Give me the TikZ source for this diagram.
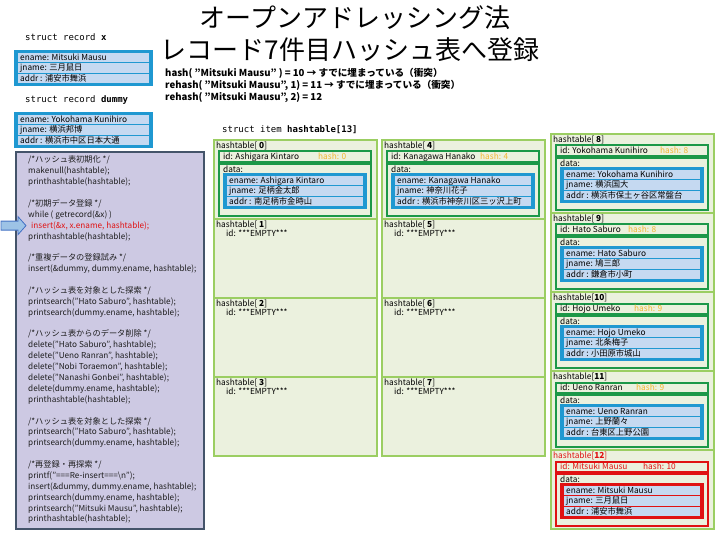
\documentclass[tikz,border=0pt]{standalone}
\usepackage{fontspec}
\setmainfont{Noto Sans CJK JP}
\newfontfamily\structfont{DejaVu Sans Mono}
\usetikzlibrary{positioning}
\definecolor{cBlue}{RGB}{31,152,209}
\definecolor{cRowFill}{RGB}{197,217,241}
\definecolor{cDarkGreen}{RGB}{28,152,72}
\definecolor{cLightGreen}{RGB}{155,206,98}
\definecolor{cCellFill}{RGB}{235,241,222}
\definecolor{cHash}{RGB}{242,182,48}
\definecolor{cRed}{RGB}{224,18,18}
\definecolor{cCodeFill}{RGB}{205,201,227}
\definecolor{cCodeBorder}{RGB}{68,84,106}
\definecolor{cCodeText}{RGB}{30,30,30}
\definecolor{cArrowFill}{RGB}{157,195,230}
\definecolor{cArrowLine}{RGB}{68,114,196}
\def\slotw{163}
\tikzset{
	cellbox/.style ={draw=cLightGreen, line width=2.6pt, fill=cCellFill},
	idbox/.style   ={draw=cDarkGreen, line width=2pt},
	databox/.style ={draw=cDarkGreen, line width=2pt},
	recbox/.style  ={draw=cBlue, line width=2.4pt, fill=cRowFill},
	recrow/.style  ={draw=cBlue, line width=1.3pt, fill=cRowFill},
	celltext/.style={anchor=base west, inner sep=0pt, yshift=-2.8pt, font=\fontsize{8.3}{9}\selectfont},
	celllabel/.style={celltext},
	idtext/.style  ={celltext},
	datatext/.style={celltext},
	hashtext/.style={celltext, text=cHash},
	rectext/.style ={celltext},
	codebox/.style ={draw=cCodeBorder, line width=1.8pt, fill=cCodeFill},
	codeline/.style={anchor=base west, inner sep=0pt, yshift=-2.9pt, text=cCodeText, font=\fontsize{8.2}{9}\selectfont},
	structlabel/.style={anchor=base west, inner sep=0pt, yshift=-3pt, font=\structfont\fontsize{9}{10}\selectfont},
	hashline/.style={anchor=base west, inner sep=0pt, yshift=-3.4pt, font=\bfseries\fontsize{9.6}{11}\selectfont},
	titletext/.style={anchor=base, inner sep=0pt, yshift=-9.5pt, font=\fontsize{26}{30}\selectfont},
	pointer/.style ={draw=cArrowLine, fill=cArrowFill, line width=0.8pt, line join=miter},
}
% three-row record: name, x, y, width, ename, jname, addr
\newcommand{\recordbox}[7]{%
	\draw[recbox] (#2,#3) rectangle ++(#4,34);
	\foreach \txt [count=\k from 0] in {{ename: #5},{jname: #6},{addr : #7}}{
		\draw[recrow] (#2+2,#3+1.5+10.33*\k) rectangle ++(#4-4,10.33);
		\node[rectext] (#1-\k) at (#2+5,#3+6.67+10.33*\k) {\txt};
	}%
}
% used slot: name, x, y, index, id, hash x, hash, jname, addr
\newcommand{\fullslot}[9]{%
	\draw[cellbox] (#2,#3) rectangle ++(\slotw,79);
	\node[celllabel] (#1-lbl) at (#2+2,#3+6) {hashtable[\textbf{#4}]};
	\draw[idbox] (#2+5,#3+11.5) rectangle (#2+\slotw-6,#3+22);
	\node[idtext] (#1-id) at (#2+9,#3+16.8) {id: #5};
	\node[hashtext] (#1-hash) at (#2+#6,#3+16.8) {hash: #7};
	\draw[databox] (#2+5,#3+24) rectangle (#2+\slotw-6,#3+76);
	\node[datatext] (#1-data) at (#2+9,#3+29.5) {data:};
	\recordbox{#1-rec}{#2+10}{#3+34}{\slotw-21}{#5}{#8}{#9}%
}
% empty slot: name, x, y, index
\newcommand{\emptyslot}[4]{%
	\draw[cellbox] (#2,#3) rectangle ++(\slotw,79);
	\node[celllabel] (#1-lbl) at (#2+2,#3+6) {hashtable[\textbf{#4}]};
	\node[idtext] (#1-id) at (#2+12,#3+15) {id: ***EMPTY***};
}

\begin{document}
\begin{tikzpicture}[x=1pt, y=-1pt]
	\fill[white] (0,0) rectangle (720,540);
	\useasboundingbox (0,0) rectangle (720,540);

	% title and hash values
	\node[titletext] (title1) at (355,18) {オープンアドレッシング法};
	\node[titletext] (title2) at (350,50) {レコード7件目ハッシュ表へ登録};
	\node[hashline] (hash0) at (165,73) {hash( "Mitsuki Mausu" ) = 10 → すでに埋まっている（衝突）};
	\node[hashline] (hash1) at (165,85) {rehash( "Mitsuki Mausu", 1) = 11 → すでに埋まっている（衝突）};
	\node[hashline] (hash2) at (165,97) {rehash( "Mitsuki Mausu", 2) = 12};

	% records x and dummy
	\node[structlabel] (recx) at (25,38) {struct record \textbf{x}};
	\recordbox{x}{15}{51}{137}{Mitsuki Mausu}{三月鼠日}{浦安市舞浜}
	\node[structlabel] (recdummy) at (25,100) {struct record \textbf{dummy}};
	\recordbox{dummy}{15}{113}{137}{Yokohama Kunihiro}{横浜邦博}{横浜市中区日本大通}

	% main program
	\draw[codebox] (16,152) rectangle (204,529);
	\foreach \txt [count=\i from 0] in {
		{/*ハッシュ表初期化 */},
		{makenull(hashtable);},
		{printhashtable(hashtable);},
		{},
		{/*初期データ登録 */},
		{while ( getrecord(\&x) )},
		{\textcolor{cRed}{\hspace{3pt}insert(\&x, x.ename, hashtable);}},
		{printhashtable(hashtable);},
		{},
		{/*重複データの登録試み */},
		{insert(\&dummy, dummy.ename, hashtable);},
		{},
		{/*ハッシュ表を対象とした探索 */},
		{printsearch("Hato Saburo", hashtable);},
		{printsearch(dummy.ename, hashtable);},
		{},
		{/*ハッシュ表からのデータ削除 */},
		{delete("Hato Saburo", hashtable);},
		{delete("Ueno Ranran", hashtable);},
		{delete("Nobi Toraemon", hashtable);},
		{delete("Nanashi Gonbei", hashtable);},
		{delete(dummy.ename, hashtable);},
		{printhashtable(hashtable);},
		{},
		{/*ハッシュ表を対象とした探索 */},
		{printsearch("Hato Saburo", hashtable);},
		{printsearch(dummy.ename, hashtable);},
		{},
		{/*再登録・再探索 */},
		{printf("===Re-insert===\textbackslash n");},
		{insert(\&dummy, dummy.ename, hashtable);},
		{printsearch(dummy.ename, hashtable);},
		{printsearch("Mitsuki Mausu", hashtable);},
		{printhashtable(hashtable);}} {
		\if\relax\detokenize\expandafter{\txt}\relax\else
			\node[codeline] (code\i) at (28,160+10.88*\i) {\txt};
		\fi
	}
	\draw[pointer] ([xshift=-2pt]code6.west) -- ++(-8,-9) -- ++(0,4.5) -- ++(-17,0)
		-- ++(0,9) -- ++(17,0) -- ++(0,4.5) -- cycle;

	% hash table
	\node[structlabel] (table) at (222,130) {struct item \textbf{hashtable[13]}};
	\fullslot{slot0}{214}{140}{~0}{Ashigara Kintaro}{104}{0}{足柄金太郎}{南足柄市金時山}
	\fullslot{slot4}{382}{140}{~4}{Kanagawa Hanako}{98}{4}{神奈川花子}{横浜市神奈川区三ッ沢上町}
	\foreach \idx/\X/\T in {1/214/219, 2/214/298, 3/214/377, 5/382/219, 6/382/298, 7/382/377}
		\emptyslot{slot\idx}{\X}{\T}{~\idx};
	\fullslot{slot8}{551}{134}{~8}{Yokohama Kunihiro}{109}{8}{横浜国大}{横浜市保土ヶ谷区常盤台}
	\fullslot{slot9}{551}{213}{~9}{Hato Saburo}{77}{8}{鳩三郎}{鎌倉市小町}
	\fullslot{slot10}{551}{292}{10}{Hojo Umeko}{83}{9}{北条梅子}{小田原市城山}
	\fullslot{slot11}{551}{371}{11}{Ueno Ranran}{85}{9}{上野蘭々}{台東区上野公園}
	\begin{scope}[idbox/.style={draw=cRed, line width=2pt}, databox/.style={draw=cRed, line width=2pt},
		recbox/.style={draw=cRed, line width=2.4pt, fill=cRowFill}, recrow/.style={draw=cRed, line width=1.3pt, fill=cRowFill},
		celllabel/.style={celltext, text=cRed}, idtext/.style={celltext, text=cRed}, hashtext/.style={celltext, text=cRed}]
		\fullslot{slot12}{551}{450}{12}{Mitsuki Mausu}{92}{10}{三月鼠日}{浦安市舞浜}
	\end{scope}
\end{tikzpicture}
\end{document}
